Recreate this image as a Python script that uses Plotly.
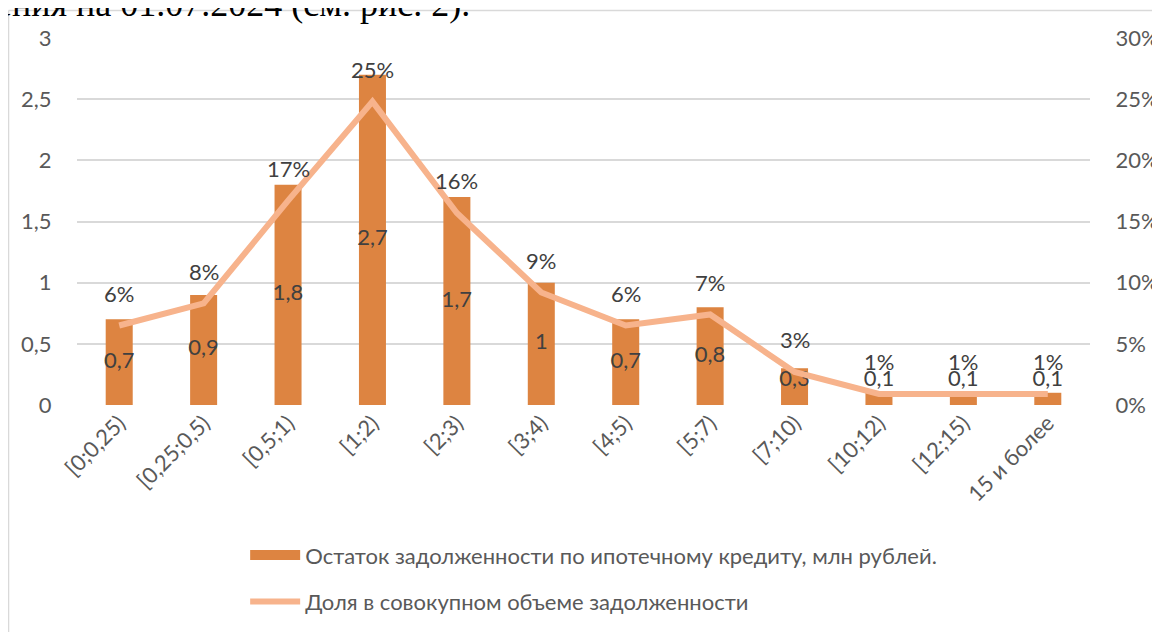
import plotly.graph_objects as go

# data
categories = ["[0;0,25)", "[0,25;0,5)", "[0,5;1)", "[1;2)", "[2;3)", "[3;4)",
              "[4;5)", "[5;7)", "[7;10)", "[10;12)", "[12;15)", "15 и более"]
debt_mln = [0.7, 0.9, 1.8, 2.7, 1.7, 1.0, 0.7, 0.8, 0.3, 0.1, 0.1, 0.1]
share = [0.065, 0.083, 0.167, 0.248, 0.157, 0.092, 0.065, 0.074, 0.027, 0.009, 0.009, 0.009]
share_labels = ["6%", "8%", "17%", "25%", "16%", "9%", "6%", "7%", "3%", "1%", "1%", "1%"]

bar_name = "Остаток задолженности по ипотечному кредиту, млн рублей."
line_name = "Доля в совокупном объеме задолженности"

FONT = "Lato, Carlito, Noto Sans, sans-serif"
BAR_COLOR = "#DD8441"
LINE_COLOR = "#F7B38C"
GRID = "#D9D9D9"
TICK = "#595959"
LABEL = "#404040"
FS = 22


def fmt_num(v):
    return f"{v:g}".replace(".", ",")


fig = go.Figure()

fig.add_trace(go.Bar(
    x=categories, y=debt_mln, name=bar_name,
    marker=dict(color=BAR_COLOR, line=dict(width=0)),
    width=0.32, showlegend=False,
))

# legend entry for the bars drawn as a thick block like the original
fig.add_trace(go.Scatter(
    x=[None], y=[None], name=bar_name, mode="lines",
    line=dict(color=BAR_COLOR, width=14), legendgroup="a",
))

fig.add_trace(go.Scatter(
    x=categories, y=share, name=line_name, yaxis="y2",
    mode="lines", line=dict(color=LINE_COLOR, width=6),
    legendgroup="b",
))

# value labels centred in bars (kept above the axis for short bars)
fig.add_trace(go.Scatter(
    x=categories, y=[max(v / 2, 0.2) for v in debt_mln],
    mode="text", text=[fmt_num(v) for v in debt_mln],
    textfont=dict(family=FONT, size=FS, color=LABEL),
    showlegend=False, hoverinfo="skip",
))

# percentage labels above line points
for c, s, t in zip(categories, share, share_labels):
    fig.add_annotation(x=c, y=s, yref="y2", text=t, showarrow=False,
                       yshift=32, font=dict(family=FONT, size=FS, color=LABEL))

# text of the document above the chart (cut off by the window)
fig.add_annotation(xref="paper", yref="paper", x=-0.082, y=1.033,
                   xanchor="left", yanchor="bottom", showarrow=False,
                   text="ения на 01.07.2024 (см. рис. 2).",
                   font=dict(family="Liberation Serif, Times New Roman, serif",
                             size=36, color="#000000"))

# chart border
fig.add_shape(type="line", xref="paper", yref="paper",
              x0=-0.0676, x1=1.1, y0=1.075, y1=1.075,
              line=dict(color=GRID, width=1.5))
fig.add_shape(type="line", xref="paper", yref="paper",
              x0=-0.0676, x1=-0.0676, y0=1.075, y1=-0.7,
              line=dict(color=GRID, width=1.5))

fig.update_layout(
    width=1152, height=624,
    margin=dict(l=69, r=70, t=30, b=227, autoexpand=False),
    paper_bgcolor="white", plot_bgcolor="white",
    separators=", ",
    font=dict(family=FONT, size=FS, color=TICK),
    showlegend=True,
    legend=dict(
        x=0.166, y=-0.352, xanchor="left", yanchor="top",
        traceorder="grouped", tracegroupgap=15,
        font=dict(family=FONT, size=FS, color=TICK),
        itemwidth=50, bgcolor="rgba(0,0,0,0)",
    ),
    xaxis=dict(
        range=[-0.5, len(categories) - 0.5],
        tickangle=-45, showgrid=False, zeroline=False, showline=False,
        ticks="", automargin=False,
        tickfont=dict(family=FONT, size=FS, color=TICK),
    ),
    yaxis=dict(
        range=[0, 3], dtick=0.5, gridcolor=GRID, gridwidth=1.5,
        zeroline=False, showline=False, ticks="outside", ticklen=20,
        tickcolor="white", automargin=False,
        tickfont=dict(family=FONT, size=FS, color=TICK),
    ),
    yaxis2=dict(
        range=[0, 0.3], dtick=0.05, tickformat=".0%", overlaying="y",
        side="right", showgrid=False, zeroline=False, showline=False,
        ticks="outside", ticklen=20, tickcolor="white", automargin=False,
        tickfont=dict(family=FONT, size=FS, color=TICK),
    ),
)

fig.write_html("out.html")
